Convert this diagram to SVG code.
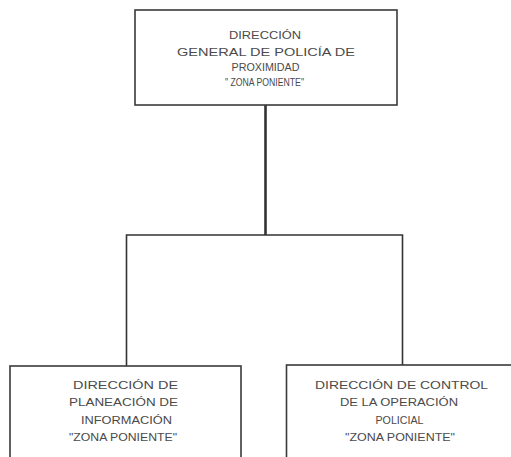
<svg xmlns="http://www.w3.org/2000/svg" width="511" height="457" viewBox="0 0 511 457">
<style>
.box{fill:#fff;stroke:#3a3a3a;stroke-width:1.6}
.t{font-family:"Liberation Sans",Arial,sans-serif;font-size:11px;fill:#4a4a4a;text-anchor:middle}
.c{stroke:#333;fill:none;stroke-width:1.6}
</style>
<rect width="511" height="457" fill="#fff"/>
<g id="connectors">
<line class="c" x1="265.5" y1="105" x2="265.5" y2="235" style="stroke-width:2.6"/>
<polyline class="c" points="126.5,366 126.5,235 402.5,235 402.5,365"/>
</g>
<g id="top">
<rect class="box" x="135" y="10" width="262" height="95"/>
<text class="t" x="265" y="39" textLength="72" lengthAdjust="spacingAndGlyphs">DIRECCIÓN</text>
<text class="t" x="266" y="56" textLength="178" lengthAdjust="spacingAndGlyphs">GENERAL  DE  POLICÍA  DE</text>
<text class="t" x="265.5" y="71" textLength="68" lengthAdjust="spacingAndGlyphs">PROXIMIDAD</text>
<text class="t" x="264.5" y="86" textLength="79" lengthAdjust="spacingAndGlyphs">" ZONA PONIENTE"</text>
</g>
<g id="left">
<rect class="box" x="10" y="366" width="231" height="100"/>
<text class="t" x="125.5" y="389" textLength="105" lengthAdjust="spacingAndGlyphs">DIRECCIÓN DE</text>
<text class="t" x="123.5" y="406" textLength="109" lengthAdjust="spacingAndGlyphs">PLANEACIÓN  DE</text>
<text class="t" x="126.5" y="424" textLength="91" lengthAdjust="spacingAndGlyphs">INFORMACIÓN</text>
<text class="t" x="123" y="441" textLength="108" lengthAdjust="spacingAndGlyphs">"ZONA PONIENTE"</text>
</g>
<g id="right">
<rect class="box" x="286.5" y="365" width="240" height="100"/>
<text class="t" x="401.5" y="389" textLength="173" lengthAdjust="spacingAndGlyphs">DIRECCIÓN DE CONTROL</text>
<text class="t" x="399" y="406" textLength="118" lengthAdjust="spacingAndGlyphs">DE LA OPERACIÓN</text>
<text class="t" x="399.5" y="424" textLength="48" lengthAdjust="spacingAndGlyphs">POLICIAL</text>
<text class="t" x="400" y="441" textLength="110" lengthAdjust="spacingAndGlyphs">"ZONA PONIENTE"</text>
</g>
</svg>
